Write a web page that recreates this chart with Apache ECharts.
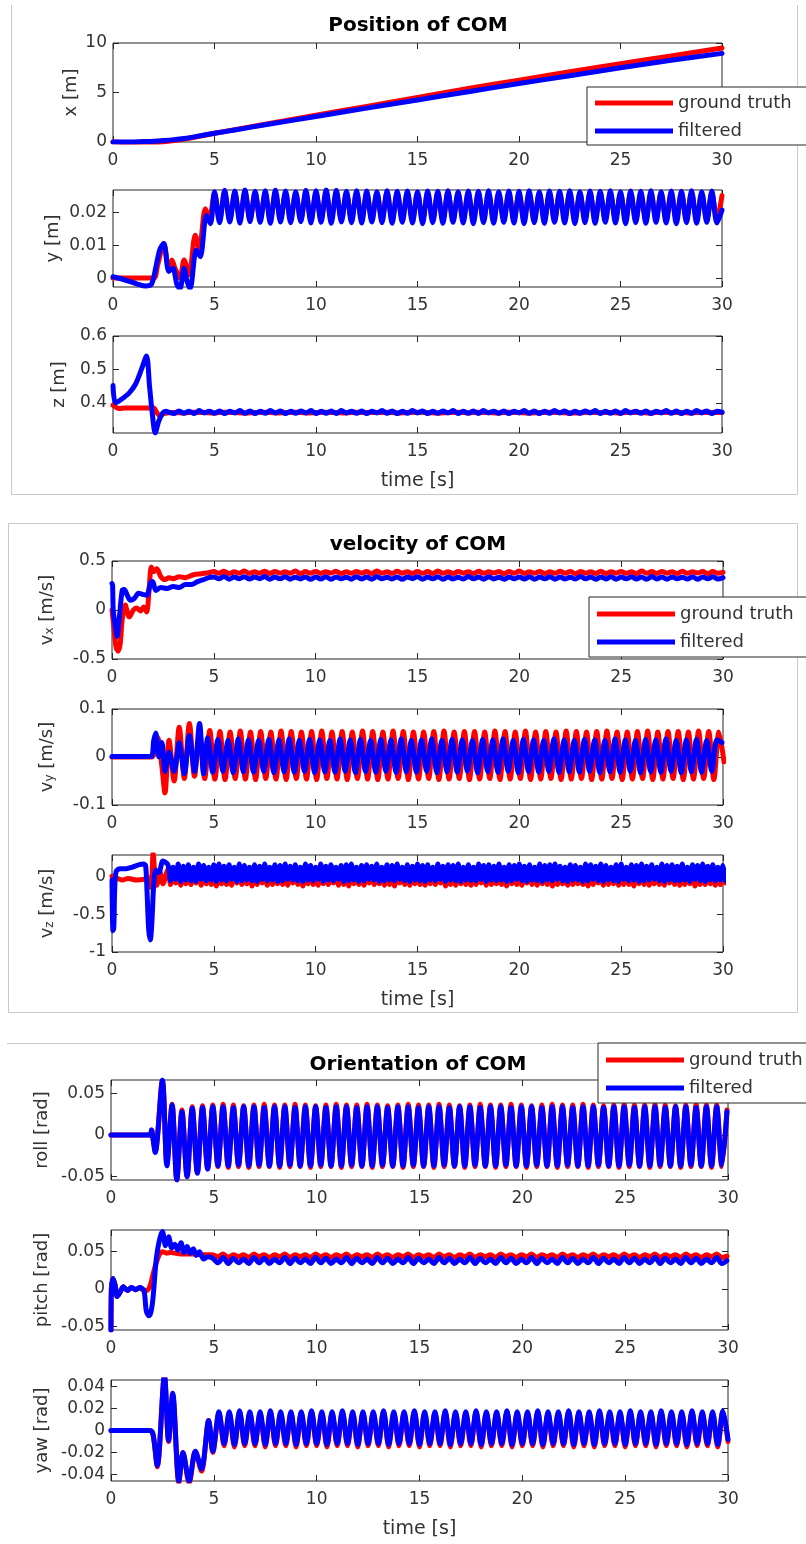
<!DOCTYPE html>
<html><head><meta charset="utf-8">
<script src="https://cdn.jsdelivr.net/npm/echarts@6/dist/echarts.min.js"></script>
<style>html,body{margin:0;padding:0;background:#fff}#c{width:806px;height:1544px}</style>
</head><body><div id="c"></div>
<script>
// ---------------- DATA ----------------
const timeTicks = [0, 5, 10, 15, 20, 25, 30];
const ticksPosX = [0, 5, 10];
const ticksPosY = [0, 0.01, 0.02];
const ticksPosZ = [0.4, 0.5, 0.6];
const ticksVelX = [-0.5, 0, 0.5];
const ticksVelY = [-0.1, 0, 0.1];
const ticksVelZ = [-1, -0.5, 0];
const ticksRoll = [-0.05, 0, 0.05];
const ticksPitch = [-0.05, 0, 0.05];
const ticksYaw = [-0.04, -0.02, 0, 0.02, 0.04];
const seriesNames = ['ground truth', 'filtered'];
const HALF = 0.25;
const QUARTER = 0.125;

// position x
const tPosX = [0, 0.5, 1, 1.5, 2, 2.5, 3, 3.5, 4, 5, 6, 7.5, 10, 12.5, 15, 17.5, 20, 22.5, 25, 27.5, 30];
const xTruthV = [0, -0.04, -0.1, -0.12, -0.08, 0.02, 0.15, 0.3, 0.48, 0.88, 1.25, 1.8, 2.7, 3.6, 4.5, 5.4, 6.25, 7.1, 7.9, 8.7, 9.5];
const xFiltV = [0, 0.0, 0.01, 0.04, 0.08, 0.15, 0.24, 0.36, 0.52, 0.88, 1.22, 1.74, 2.58, 3.42, 4.25, 5.08, 5.9, 6.7, 7.5, 8.25, 8.95];

// position y
const yTruthT = [0, 1.0, 2.0, 2.2, 2.5, 2.75, 2.9, 3.05, 3.3, 3.5, 3.75, 4.05, 4.25, 4.55, 4.75];
const yTruthV = [0, 0, 0, 0.004, 0.0105, 0.003, 0.0055, 0.003, 0.0, 0.0055, 0.001, 0.013, 0.009, 0.021, 0.018];
const yTruthStart = 5.0;
const yTruthSteady = [
0.0256,0.0178,0.0257,0.0177,0.0255,0.0179,0.0258,0.0178,0.0256,0.0177,
0.0255,0.0179,0.0257,0.0178,0.0256,0.0180,0.0255,0.0177,0.0257,0.0178,
0.0256,0.0179,0.0258,0.0177,0.0255,0.0178,0.0256,0.0180,0.0257,0.0178,
0.0255,0.0177,0.0256,0.0179,0.0257,0.0178,0.0255,0.0180,0.0256,0.0177,
0.0257,0.0178,0.0255,0.0179,0.0256,0.0177,0.0258,0.0178,0.0255,0.0179,
0.0256,0.0178,0.0257,0.0177,0.0255,0.0180,0.0256,0.0178,0.0257,0.0179,
0.0255,0.0177,0.0256,0.0178,0.0258,0.0179,0.0255,0.0177,0.0256,0.0180,
0.0257,0.0178,0.0255,0.0179,0.0256,0.0177,0.0257,0.0178,0.0255,0.0180,
0.0256,0.0179,0.0258,0.0177,0.0255,0.0178,0.0256,0.0179,0.0257,0.0177,
0.0255,0.0178,0.0256,0.0180,0.0257,0.0178,0.0255,0.0179,0.0256,0.0177,
0.0250];
const yFiltT = [0, 0.4, 0.8, 1.2, 1.6, 1.9, 2.1, 2.3, 2.5, 2.75, 2.95, 3.15, 3.3, 3.5, 3.65, 3.8, 4.1, 4.3, 4.6, 4.8];
const yFiltV = [0.0004, -0.0002, -0.001, -0.0018, -0.0024, -0.0018, 0.003, 0.0085, 0.0105, 0.002, 0.003, -0.002, -0.0032, 0.003, -0.001, -0.0032, 0.0085, 0.0065, 0.019, 0.0165];
const yFiltStart = 5.0;
const yFiltSteady = [
0.0262,0.0168,0.0266,0.0170,0.0264,0.0167,0.0268,0.0171,0.0263,0.0169,
0.0265,0.0166,0.0267,0.0170,0.0264,0.0168,0.0262,0.0171,0.0266,0.0167,
0.0265,0.0169,0.0268,0.0166,0.0266,0.0170,0.0263,0.0168,0.0265,0.0167,
0.0264,0.0170,0.0262,0.0168,0.0265,0.0166,0.0263,0.0169,0.0264,0.0167,
0.0262,0.0165,0.0264,0.0168,0.0263,0.0166,0.0265,0.0169,0.0262,0.0167,
0.0264,0.0165,0.0263,0.0168,0.0265,0.0166,0.0262,0.0169,0.0264,0.0167,
0.0263,0.0165,0.0265,0.0168,0.0262,0.0166,0.0264,0.0169,0.0263,0.0167,
0.0265,0.0165,0.0262,0.0168,0.0264,0.0166,0.0263,0.0169,0.0265,0.0167,
0.0262,0.0165,0.0264,0.0168,0.0263,0.0166,0.0265,0.0169,0.0262,0.0167,
0.0264,0.0165,0.0263,0.0168,0.0265,0.0166,0.0262,0.0169,0.0264,0.0167,
0.0206];

// position z
const zTruthT = [0, 0.15, 0.3, 0.6, 1.0, 1.5, 2.0, 2.15, 2.3, 2.5];
const zTruthV = [0.393, 0.387, 0.383, 0.385, 0.385, 0.385, 0.385, 0.372, 0.362, 0.368];
const zTruthStart = 3.0;
const zTruthSteady = [
0.371,0.370,0.372,0.371,0.370,0.372,0.371,0.370,0.371,0.372,
0.370,0.371,0.372,0.370,0.371,0.372,0.371,0.370,0.372,0.371,
0.371,0.372,0.370,0.371,0.372,0.371,0.370,0.371,0.372,0.370,
0.372,0.371,0.370,0.372,0.371,0.370,0.371,0.372,0.371,0.370,
0.370,0.372,0.371,0.371,0.370,0.372,0.371,0.370,0.372,0.371,
0.371,0.370,0.372,0.371,0.371];
const zFiltT = [0, 0.12, 0.4, 0.8, 1.1, 1.4, 1.65, 1.8, 1.95, 2.08, 2.25, 2.45, 2.6];
const zFiltV = [0.452, 0.4, 0.41, 0.43, 0.455, 0.5, 0.54, 0.45, 0.36, 0.31, 0.345, 0.37, 0.375];
const zFiltStart = 2.75;
const zFiltSteady = [
0.372,0.368,0.376,0.369,0.375,0.368,0.377,0.370,0.375,0.369,
0.376,0.368,0.375,0.370,0.377,0.369,0.376,0.368,0.375,0.369,
0.377,0.370,0.376,0.368,0.375,0.369,0.376,0.370,0.377,0.368,
0.375,0.369,0.376,0.368,0.377,0.370,0.375,0.369,0.376,0.368,
0.375,0.370,0.377,0.369,0.376,0.368,0.375,0.369,0.377,0.370,
0.376,0.368,0.375,0.369,0.376,0.370,0.377,0.368,0.375,0.369,
0.376,0.368,0.377,0.370,0.375,0.369,0.376,0.368,0.375,0.370,
0.377,0.369,0.376,0.368,0.375,0.369,0.377,0.370,0.376,0.368,
0.375,0.369,0.376,0.370,0.377,0.368,0.375,0.369,0.376,0.368,
0.377,0.370,0.375,0.369,0.376,0.368,0.375,0.370,0.377,0.369,
0.376,0.368,0.375,0.369,0.377,0.370,0.376,0.368,0.375,0.372];

// velocity x
const vxTruthT = [0, 0.08, 0.2, 0.3, 0.4, 0.5, 0.65, 0.85, 1.05, 1.2, 1.4, 1.55, 1.7, 1.82, 1.93, 2.05, 2.2, 2.4, 2.6, 2.8, 3.0, 3.3, 3.6, 4.0, 4.4, 4.75];
const vxTruthV = [0.0, -0.15, -0.38, -0.42, -0.35, -0.1, 0.05, -0.07, 0.0, 0.02, -0.01, 0.03, -0.02, 0.2, 0.44, 0.39, 0.42, 0.34, 0.31, 0.33, 0.32, 0.34, 0.33, 0.36, 0.37, 0.38];
const vxTruthStart = 5.0;
const vxTruthSteady = [
0.392,0.374,0.396,0.372,0.390,0.376,0.398,0.373,0.391,0.375,
0.395,0.372,0.393,0.376,0.390,0.374,0.397,0.371,0.392,0.375,
0.394,0.373,0.391,0.377,0.396,0.372,0.390,0.374,0.393,0.376,
0.392,0.371,0.397,0.375,0.390,0.373,0.395,0.376,0.391,0.372,
0.394,0.374,0.392,0.371,0.398,0.375,0.390,0.373,0.393,0.376,
0.391,0.372,0.396,0.374,0.390,0.377,0.394,0.371,0.392,0.375,
0.397,0.373,0.390,0.376,0.393,0.372,0.391,0.374,0.395,0.376,
0.392,0.371,0.394,0.375,0.390,0.373,0.396,0.372,0.391,0.376,
0.393,0.374,0.390,0.371,0.397,0.375,0.392,0.373,0.394,0.376,
0.391,0.372,0.395,0.374,0.390,0.377,0.393,0.371,0.392,0.375,
0.385];
const vxFiltT = [0, 0.03, 0.06, 0.15, 0.25, 0.35, 0.5, 0.6, 0.75, 0.9, 1.1, 1.3, 1.5, 1.7, 1.9, 2.0, 2.15, 2.4, 2.7, 3.0, 3.3, 3.6, 3.9, 4.2, 4.5, 4.75];
const vxFiltV = [0.27, 0.25, 0.0, -0.15, -0.27, -0.1, 0.2, 0.21, 0.15, 0.1, 0.12, 0.17, 0.16, 0.15, 0.28, 0.29, 0.2, 0.23, 0.22, 0.24, 0.23, 0.26, 0.26, 0.29, 0.31, 0.33];
const vxFiltStart = 5.0;
const vxFiltSteady = [
0.338,0.318,0.342,0.315,0.336,0.320,0.340,0.316,0.337,0.319,
0.341,0.314,0.336,0.318,0.339,0.315,0.335,0.317,0.338,0.313,
0.336,0.316,0.340,0.314,0.337,0.318,0.335,0.315,0.339,0.317,
0.336,0.314,0.341,0.318,0.335,0.316,0.338,0.314,0.337,0.319,
0.340,0.315,0.336,0.318,0.339,0.314,0.337,0.317,0.335,0.316,
0.341,0.318,0.336,0.315,0.339,0.317,0.335,0.314,0.338,0.318,
0.337,0.316,0.340,0.314,0.336,0.318,0.339,0.315,0.337,0.317,
0.335,0.316,0.341,0.318,0.336,0.314,0.338,0.317,0.340,0.315,
0.336,0.318,0.339,0.316,0.337,0.314,0.341,0.317,0.336,0.315,
0.338,0.318,0.335,0.316,0.340,0.314,0.337,0.318,0.339,0.316,
0.330];

// velocity y
const vyTruthT = [0, 1.95, 2.1, 2.25, 2.45, 2.6, 2.8, 3.05, 3.3, 3.55, 3.8, 4.05, 4.3, 4.55, 4.8];
const vyTruthV = [0, 0, 0.02, 0.04, -0.02, -0.075, 0.035, -0.05, 0.062, -0.045, 0.07, -0.04, 0.05, -0.045, 0.055];
const vyTruthStart = 5.05;
const vyTruthSteady = [
-0.046,0.053,-0.047,0.052,-0.045,0.054,-0.046,0.052,-0.047,0.053,
-0.045,0.052,-0.046,0.054,-0.047,0.053,-0.045,0.052,-0.046,0.053,
-0.047,0.054,-0.045,0.052,-0.046,0.053,-0.047,0.052,-0.045,0.054,
-0.046,0.053,-0.047,0.052,-0.046,0.054,-0.045,0.053,-0.047,0.052,
-0.046,0.052,-0.045,0.053,-0.047,0.054,-0.046,0.052,-0.045,0.053,
-0.047,0.053,-0.046,0.052,-0.045,0.054,-0.047,0.053,-0.046,0.052,
-0.045,0.054,-0.047,0.052,-0.046,0.053,-0.045,0.052,-0.047,0.054,
-0.046,0.053,-0.045,0.052,-0.047,0.053,-0.046,0.054,-0.045,0.052,
-0.047,0.052,-0.046,0.053,-0.045,0.054,-0.047,0.052,-0.046,0.053,
-0.045,0.053,-0.047,0.052,-0.046,0.054,-0.045,0.053,-0.047,0.052,
-0.010];
const vyFiltT = [0, 1.9, 2.05, 2.15, 2.3, 2.45, 2.6, 2.8, 3.05, 3.3, 3.55, 3.8, 4.05, 4.3, 4.5, 4.7];
const vyFiltV = [0.001, 0.001, 0.035, 0.05, 0.0, 0.03, -0.03, 0.01, -0.03, 0.03, -0.035, 0.045, -0.03, 0.07, -0.035, 0.04];
const vyFiltStart = 4.95;
const vyFiltSteady = [
-0.032,0.037,-0.030,0.035,-0.033,0.038,-0.031,0.036,-0.032,0.035,
-0.030,0.037,-0.033,0.036,-0.031,0.038,-0.032,0.035,-0.030,0.037,
-0.033,0.036,-0.031,0.035,-0.032,0.038,-0.030,0.036,-0.033,0.037,
-0.031,0.035,-0.032,0.037,-0.030,0.036,-0.033,0.038,-0.031,0.035,
-0.032,0.036,-0.030,0.038,-0.033,0.035,-0.031,0.037,-0.032,0.036,
-0.030,0.035,-0.033,0.037,-0.031,0.036,-0.032,0.038,-0.030,0.035,
-0.033,0.037,-0.031,0.036,-0.032,0.035,-0.030,0.038,-0.033,0.036,
-0.031,0.035,-0.032,0.037,-0.030,0.036,-0.033,0.035,-0.031,0.038,
-0.032,0.036,-0.030,0.035,-0.033,0.037,-0.031,0.036,-0.032,0.038,
-0.030,0.035,-0.033,0.036,-0.031,0.037,-0.032,0.035,-0.030,0.036,
0.030];

// velocity z (denser noise, sampled every 0.125 s)
const vzTruthT = [0, 0.08, 0.25, 0.5, 0.8, 1.2, 1.6, 1.8, 1.92, 2.02, 2.1, 2.2, 2.35, 2.5];
const vzTruthV = [0.0, -0.05, -0.03, -0.05, -0.03, -0.05, -0.04, -0.02, -0.15, 0.3, 0.05, -0.12, 0.06, -0.1];
const vzTruthStart = 2.75;
const vzTruthSteady = [
0.09,-0.11,0.06,-0.09,0.10,-0.12,0.07,-0.10,0.08,-0.11,
0.10,-0.09,0.07,-0.12,0.09,-0.10,0.06,-0.11,0.10,-0.13,
0.08,-0.10,0.09,-0.11,0.07,-0.12,0.10,-0.09,0.08,-0.11,
0.06,-0.10,0.09,-0.13,0.10,-0.11,0.07,-0.09,0.08,-0.12,
0.09,-0.11,0.10,-0.10,0.06,-0.11,0.08,-0.12,0.09,-0.09,
0.07,-0.11,0.10,-0.13,0.08,-0.10,0.09,-0.11,0.06,-0.12,
0.10,-0.10,0.07,-0.11,0.09,-0.09,0.08,-0.12,0.10,-0.11,
0.06,-0.13,0.09,-0.10,0.07,-0.11,0.10,-0.12,0.08,-0.09,
0.09,-0.11,0.06,-0.10,0.10,-0.12,0.07,-0.11,0.08,-0.13,
0.10,-0.09,0.09,-0.11,0.06,-0.12,0.08,-0.10,0.07,-0.11,
0.09,-0.12,0.10,-0.10,0.08,-0.11,0.06,-0.09,0.09,-0.13,
0.07,-0.11,0.10,-0.12,0.08,-0.10,0.09,-0.11,0.06,-0.12,
0.10,-0.11,0.07,-0.09,0.09,-0.12,0.08,-0.11,0.10,-0.10,
0.06,-0.11,0.09,-0.13,0.07,-0.10,0.10,-0.11,0.08,-0.12,
0.09,-0.09,0.06,-0.11,0.10,-0.12,0.07,-0.10,0.08,-0.11,
0.10,-0.13,0.09,-0.11,0.06,-0.10,0.08,-0.12,0.07,-0.11,
0.09,-0.10,0.10,-0.11,0.08,-0.13,0.06,-0.11,0.09,-0.09,
0.07,-0.12,0.10,-0.11,0.08,-0.10,0.09,-0.12,0.06,-0.11,
0.10,-0.11,0.07,-0.13,0.09,-0.10,0.08,-0.11,0.10,-0.12,
0.06,-0.10,0.09,-0.11,0.07,-0.12,0.10,-0.09,0.08,-0.11,
0.09,-0.12,0.06,-0.11,0.10,-0.10,0.07,-0.13,0.08,-0.11,
0.10,-0.11,0.09,-0.10,0.06,-0.12,0.08,-0.11,0.07,-0.09];
const vzFiltT = [0, 0.02, 0.05, 0.09, 0.13, 0.2, 0.4, 0.7, 1.0, 1.3, 1.55, 1.65, 1.72, 1.8, 1.88, 1.96, 2.05, 2.15, 2.3, 2.5];
const vzFiltV = [-0.05, -0.5, -0.72, -0.68, -0.2, 0.06, 0.1, 0.1, 0.12, 0.15, 0.16, 0.14, -0.2, -0.7, -0.84, -0.6, -0.1, 0.08, 0.05, 0.2];
const vzFiltStart = 2.75;
const vzFiltSteady = [
0.15,-0.06,0.12,-0.04,0.16,-0.07,0.13,-0.05,0.15,-0.06,
0.12,-0.07,0.16,-0.04,0.14,-0.06,0.12,-0.05,0.15,-0.07,
0.16,-0.05,0.13,-0.06,0.15,-0.04,0.12,-0.07,0.16,-0.06,
0.14,-0.05,0.12,-0.06,0.15,-0.07,0.13,-0.04,0.16,-0.06,
0.12,-0.05,0.15,-0.07,0.14,-0.06,0.16,-0.04,0.13,-0.05,
0.15,-0.06,0.12,-0.07,0.16,-0.05,0.14,-0.06,0.12,-0.04,
0.16,-0.07,0.13,-0.05,0.15,-0.06,0.12,-0.04,0.14,-0.07,
0.15,-0.06,0.16,-0.05,0.12,-0.07,0.14,-0.06,0.15,-0.04,
0.13,-0.05,0.16,-0.07,0.12,-0.06,0.15,-0.05,0.14,-0.06,
0.16,-0.04,0.12,-0.06,0.15,-0.07,0.13,-0.05,0.16,-0.06,
0.14,-0.07,0.15,-0.05,0.12,-0.06,0.16,-0.04,0.13,-0.07,
0.15,-0.05,0.14,-0.06,0.16,-0.07,0.12,-0.05,0.15,-0.06,
0.12,-0.06,0.16,-0.04,0.14,-0.07,0.15,-0.05,0.13,-0.06,
0.16,-0.05,0.12,-0.07,0.15,-0.06,0.14,-0.04,0.16,-0.06,
0.13,-0.07,0.15,-0.05,0.12,-0.06,0.16,-0.07,0.14,-0.05,
0.15,-0.06,0.16,-0.04,0.13,-0.06,0.12,-0.07,0.15,-0.05,
0.14,-0.05,0.12,-0.07,0.16,-0.06,0.15,-0.04,0.13,-0.06,
0.16,-0.07,0.14,-0.05,0.12,-0.06,0.15,-0.07,0.16,-0.04,
0.12,-0.06,0.15,-0.05,0.14,-0.07,0.16,-0.06,0.13,-0.05,
0.15,-0.04,0.12,-0.06,0.16,-0.07,0.14,-0.05,0.15,-0.06,
0.13,-0.06,0.16,-0.05,0.12,-0.07,0.15,-0.04,0.14,-0.06,
0.16,-0.07,0.13,-0.05,0.15,-0.06,0.12,-0.05,0.14,-0.06];

// roll
const rollTruthT = [0, 1.9, 1.97, 2.05, 2.15, 2.5, 2.72, 2.97, 3.2, 3.45, 3.7, 3.95, 4.2, 4.45, 4.7];
const rollTruthV = [0, 0, 0.006, -0.005, -0.02, 0.065, -0.035, 0.037, -0.054, 0.03, -0.05, 0.034, -0.045, 0.035, -0.04];
const rollTruthStart = 4.95;
const rollTruthSteady = [
0.036,-0.038,0.037,-0.039,0.036,-0.038,0.035,-0.039,0.036,-0.038,
0.037,-0.038,0.036,-0.039,0.036,-0.038,0.037,-0.038,0.036,-0.039,
0.035,-0.038,0.036,-0.038,0.037,-0.039,0.036,-0.038,0.036,-0.038,
0.037,-0.039,0.036,-0.038,0.035,-0.038,0.036,-0.039,0.037,-0.038,
0.036,-0.038,0.036,-0.039,0.037,-0.038,0.036,-0.038,0.035,-0.039,
0.036,-0.038,0.037,-0.038,0.036,-0.039,0.036,-0.038,0.037,-0.038,
0.036,-0.039,0.035,-0.038,0.036,-0.038,0.037,-0.039,0.036,-0.038,
0.036,-0.038,0.037,-0.039,0.036,-0.038,0.035,-0.038,0.036,-0.039,
0.037,-0.038,0.036,-0.038,0.036,-0.039,0.037,-0.038,0.036,-0.038,
0.035,-0.039,0.036,-0.038,0.037,-0.038,0.036,-0.039,0.036,-0.038,
0.030];
const rollFiltT = [0, 1.9, 1.97, 2.05, 2.15, 2.5, 2.72, 2.97, 3.2, 3.45, 3.7, 3.95, 4.2, 4.45, 4.7];
const rollFiltV = [0, 0, 0.006, -0.006, -0.021, 0.066, -0.037, 0.036, -0.054, 0.028, -0.05, 0.032, -0.046, 0.033, -0.041];
const rollFiltStart = 4.95;
const rollFiltSteady = [
0.034,-0.037,0.034,-0.037,0.033,-0.036,0.034,-0.037,0.034,-0.036,
0.033,-0.037,0.034,-0.037,0.034,-0.036,0.033,-0.037,0.034,-0.037,
0.034,-0.036,0.033,-0.037,0.034,-0.037,0.034,-0.036,0.033,-0.037,
0.034,-0.037,0.034,-0.036,0.033,-0.037,0.034,-0.037,0.034,-0.036,
0.033,-0.037,0.034,-0.037,0.034,-0.036,0.033,-0.037,0.034,-0.037,
0.034,-0.036,0.033,-0.037,0.034,-0.037,0.034,-0.036,0.033,-0.037,
0.034,-0.037,0.034,-0.036,0.033,-0.037,0.034,-0.037,0.034,-0.036,
0.033,-0.037,0.034,-0.037,0.034,-0.036,0.033,-0.037,0.034,-0.037,
0.034,-0.036,0.033,-0.037,0.034,-0.037,0.034,-0.036,0.033,-0.037,
0.034,-0.037,0.034,-0.036,0.033,-0.037,0.034,-0.037,0.034,-0.036,
0.028];

// pitch
const pitchTruthT = [0, 0.02, 0.1, 0.2, 0.3, 0.45, 0.6, 0.8, 1.0, 1.2, 1.4, 1.6, 1.75, 1.9, 2.05, 2.2, 2.35, 2.5, 2.7, 2.9, 3.1, 3.4, 3.7, 4.0, 4.3, 4.7];
const pitchTruthV = [-0.055, 0.0, 0.014, 0.005, -0.01, -0.004, 0.003, -0.002, 0.002, -0.001, 0.002, -0.002, -0.002, 0.004, 0.02, 0.035, 0.046, 0.05, 0.048, 0.049, 0.048, 0.047, 0.047, 0.047, 0.046, 0.046];
const pitchTruthStart = 4.95;
const pitchTruthSteady = [
0.046,0.043,0.047,0.042,0.046,0.043,0.046,0.042,0.047,0.043,
0.046,0.042,0.046,0.043,0.047,0.042,0.046,0.043,0.046,0.042,
0.047,0.043,0.046,0.042,0.046,0.043,0.047,0.042,0.046,0.043,
0.046,0.042,0.047,0.043,0.046,0.042,0.046,0.043,0.047,0.042,
0.046,0.043,0.046,0.042,0.047,0.043,0.046,0.042,0.046,0.043,
0.047,0.042,0.046,0.043,0.046,0.042,0.047,0.043,0.046,0.042,
0.046,0.043,0.047,0.042,0.046,0.043,0.046,0.042,0.047,0.043,
0.046,0.042,0.046,0.043,0.047,0.042,0.046,0.043,0.046,0.042,
0.047,0.043,0.046,0.042,0.046,0.043,0.047,0.042,0.046,0.043,
0.046,0.042,0.047,0.043,0.046,0.042,0.046,0.043,0.047,0.042,
0.044];
const pitchFiltT = [0, 0.02, 0.1, 0.2, 0.3, 0.45, 0.6, 0.8, 1.0, 1.2, 1.4, 1.6, 1.72, 1.85, 1.95, 2.05, 2.2, 2.35, 2.5, 2.65, 2.8, 2.95, 3.1, 3.25, 3.4, 3.55, 3.7, 3.85, 4.0, 4.15, 4.3, 4.5, 4.7];
const pitchFiltV = [-0.055, 0.0, 0.014, 0.005, -0.01, -0.004, 0.003, -0.002, 0.002, -0.001, 0.002, -0.002, -0.03, -0.036, -0.03, -0.01, 0.04, 0.065, 0.077, 0.058, 0.07, 0.055, 0.06, 0.052, 0.062, 0.049, 0.057, 0.048, 0.054, 0.045, 0.05, 0.04, 0.043];
const pitchFiltStart = 4.95;
const pitchFiltSteady = [
0.041,0.035,0.042,0.034,0.041,0.035,0.040,0.034,0.042,0.035,
0.041,0.034,0.040,0.035,0.042,0.034,0.041,0.035,0.040,0.034,
0.042,0.035,0.041,0.034,0.040,0.035,0.042,0.034,0.041,0.035,
0.040,0.034,0.042,0.035,0.041,0.034,0.040,0.035,0.042,0.034,
0.041,0.035,0.040,0.034,0.042,0.035,0.041,0.034,0.040,0.035,
0.042,0.034,0.041,0.035,0.040,0.034,0.042,0.035,0.041,0.034,
0.040,0.035,0.042,0.034,0.041,0.035,0.040,0.034,0.042,0.035,
0.041,0.034,0.040,0.035,0.042,0.034,0.041,0.035,0.040,0.034,
0.042,0.035,0.041,0.034,0.040,0.035,0.042,0.034,0.041,0.035,
0.040,0.034,0.042,0.035,0.041,0.034,0.040,0.035,0.042,0.034,
0.038];

// yaw
const yawTruthT = [0, 1.9, 2.05, 2.25, 2.6, 2.8, 3.0, 3.3, 3.5, 3.8, 4.1, 4.4, 4.75, 4.95];
const yawTruthV = [0, 0, -0.004, -0.033, 0.05, -0.01, 0.033, -0.048, -0.02, -0.048, -0.019, -0.037, 0.009, -0.02];
const yawTruthStart = 5.25;
const yawTruthSteady = [
0.016,-0.014,0.016,-0.015,0.017,-0.014,0.016,-0.014,0.016,-0.015,
0.017,-0.014,0.016,-0.014,0.016,-0.015,0.016,-0.014,0.017,-0.014,
0.016,-0.015,0.016,-0.014,0.017,-0.014,0.016,-0.015,0.016,-0.014,
0.016,-0.014,0.017,-0.015,0.016,-0.014,0.016,-0.014,0.017,-0.015,
0.016,-0.014,0.016,-0.014,0.017,-0.015,0.016,-0.014,0.016,-0.014,
0.017,-0.015,0.016,-0.014,0.016,-0.014,0.017,-0.015,0.016,-0.014,
0.016,-0.014,0.017,-0.015,0.016,-0.014,0.016,-0.014,0.017,-0.015,
0.016,-0.014,0.016,-0.015,0.017,-0.014,0.016,-0.014,0.016,-0.015,
0.017,-0.014,0.016,-0.014,0.016,-0.015,0.017,-0.014,0.016,-0.014,
0.016,-0.015,0.017,-0.014,0.016,-0.014,0.016,-0.015,0.017,-0.010];
const yawFiltT = [0, 1.9, 2.05, 2.25, 2.6, 2.8, 3.0, 3.3, 3.5, 3.8, 4.1, 4.4, 4.75, 4.95];
const yawFiltV = [0, 0, -0.004, -0.032, 0.05, -0.009, 0.034, -0.046, -0.02, -0.046, -0.019, -0.035, 0.009, -0.019];
const yawFiltStart = 5.25;
const yawFiltSteady = [
0.017,-0.012,0.017,-0.013,0.018,-0.012,0.017,-0.012,0.017,-0.013,
0.018,-0.012,0.017,-0.012,0.017,-0.013,0.017,-0.012,0.018,-0.012,
0.017,-0.013,0.017,-0.012,0.018,-0.012,0.017,-0.013,0.017,-0.012,
0.017,-0.012,0.018,-0.013,0.017,-0.012,0.017,-0.012,0.018,-0.013,
0.017,-0.012,0.017,-0.012,0.018,-0.013,0.017,-0.012,0.017,-0.012,
0.018,-0.013,0.017,-0.012,0.017,-0.012,0.018,-0.013,0.017,-0.012,
0.017,-0.012,0.018,-0.013,0.017,-0.012,0.017,-0.012,0.018,-0.013,
0.017,-0.012,0.017,-0.013,0.018,-0.012,0.017,-0.012,0.017,-0.013,
0.018,-0.012,0.017,-0.012,0.017,-0.013,0.018,-0.012,0.017,-0.012,
0.017,-0.013,0.018,-0.012,0.017,-0.012,0.017,-0.013,0.018,-0.008];

// ---------------- BUILD ----------------
function ptsStep(tArr, vArr, t0, step, steady) {
  const out = tArr.map((t, i) => [t, vArr[i]]);
  if (steady) steady.forEach((v, i) => out.push([+(t0 + i * step).toFixed(3), v]));
  return out;
}
function pts(tArr, vArr, t0, steady) { return ptsStep(tArr, vArr, t0, HALF, steady); }

const FONT = 'DejaVu Sans';
const TXT = '#333333';
const AX = '#262626';
const RED = '#ff0000', BLUE = '#0000ff';

const plots = [
  {g:{left:113, top:43, width:609, height:99}, min:0, max:10, ticks:ticksPosX, name:'x [m]', gap:33,
   r: pts(tPosX, xTruthV), b: pts(tPosX, xFiltV)},
  {g:{left:113, top:190, width:609, height:97}, min:-0.0027, max:0.0267, ticks:ticksPosY, name:'y [m]', gap:51,
   r: pts(yTruthT, yTruthV, yTruthStart, yTruthSteady), b: pts(yFiltT, yFiltV, yFiltStart, yFiltSteady)},
  {g:{left:113, top:336, width:609, height:97}, min:0.31, max:0.6, ticks:ticksPosZ, name:'z [m]', gap:45, time:true,
   r: ptsStep(zTruthT, zTruthV, zTruthStart, 0.5, zTruthSteady), b: pts(zFiltT, zFiltV, zFiltStart, zFiltSteady)},
  {g:{left:112, top:561, width:611, height:98}, min:-0.5, max:0.5, ticks:ticksVelX, name:'v{sub|x} [m/s]', gap:56,
   r: pts(vxTruthT, vxTruthV, vxTruthStart, vxTruthSteady), b: pts(vxFiltT, vxFiltV, vxFiltStart, vxFiltSteady)},
  {g:{left:112, top:709, width:611, height:96}, min:-0.1, max:0.1, ticks:ticksVelY, name:'v{sub|y} [m/s]', gap:56,
   r: pts(vyTruthT, vyTruthV, vyTruthStart, vyTruthSteady), b: pts(vyFiltT, vyFiltV, vyFiltStart, vyFiltSteady)},
  {g:{left:112, top:855, width:611, height:97}, min:-1, max:0.28, ticks:ticksVelZ, name:'v{sub|z} [m/s]', gap:56, time:true,
   r: ptsStep(vzTruthT, vzTruthV, vzTruthStart, QUARTER, vzTruthSteady), b: ptsStep(vzFiltT, vzFiltV, vzFiltStart, QUARTER, vzFiltSteady)},
  {g:{left:111, top:1080, width:617, height:100}, min:-0.054, max:0.066, ticks:ticksRoll, name:'roll [rad]', gap:60,
   r: pts(rollTruthT, rollTruthV, rollTruthStart, rollTruthSteady), b: pts(rollFiltT, rollFiltV, rollFiltStart, rollFiltSteady)},
  {g:{left:111, top:1230, width:617, height:100}, min:-0.055, max:0.079, ticks:ticksPitch, name:'pitch [rad]', gap:60,
   r: pts(pitchTruthT, pitchTruthV, pitchTruthStart, pitchTruthSteady), b: pts(pitchFiltT, pitchFiltV, pitchFiltStart, pitchFiltSteady)},
  {g:{left:111, top:1380, width:617, height:101}, min:-0.046, max:0.046, ticks:ticksYaw, name:'yaw [rad]', gap:60, time:true,
   r: pts(yawTruthT, yawTruthV, yawTruthStart, yawTruthSteady), b: pts(yawFiltT, yawFiltV, yawFiltStart, yawFiltSteady)}
];

const grid = [], xAxis = [], yAxis = [], series = [];
const tickStyle = {inside:true, length:6, lineStyle:{color:AX, width:1}};
const noLine = {show:false, onZero:false};
plots.forEach((p, i) => {
  grid.push(Object.assign({show:true, borderColor:AX, borderWidth:1, backgroundColor:'#fff', outerBoundsMode:'none'}, p.g));
  xAxis.push({gridIndex:i, type:'value', min:0, max:30, position:'bottom',
    axisLine:noLine, splitLine:{show:false},
    axisTick:Object.assign({customValues:timeTicks}, tickStyle),
    axisLabel:{customValues:timeTicks, margin:10, fontSize:17, fontFamily:FONT, color:TXT},
    name: p.time ? 'time [s]' : '', nameLocation:'middle', nameGap:39, nameMoveOverlap:false,
    nameTextStyle:{fontSize:19, fontFamily:FONT, color:TXT}});
  xAxis.push({gridIndex:i, type:'value', min:0, max:30, position:'top',
    axisLine:noLine, splitLine:{show:false}, axisLabel:{show:false},
    axisTick:Object.assign({customValues:timeTicks}, tickStyle)});
  yAxis.push({gridIndex:i, type:'value', min:p.min, max:p.max, position:'left',
    axisLine:noLine, splitLine:{show:false},
    axisTick:Object.assign({customValues:p.ticks}, tickStyle),
    axisLabel:{customValues:p.ticks, margin:6, fontSize:17, fontFamily:FONT, color:TXT},
    name:p.name, nameLocation:'middle', nameRotate:90, nameGap:p.gap, nameMoveOverlap:false,
    nameTextStyle:{fontSize:18, fontFamily:FONT, color:TXT,
      rich:{sub:{fontSize:12, fontFamily:FONT, color:TXT, verticalAlign:'bottom', lineHeight:6}}}});
  yAxis.push({gridIndex:i, type:'value', min:p.min, max:p.max, position:'right',
    axisLine:noLine, splitLine:{show:false}, axisLabel:{show:false},
    axisTick:Object.assign({customValues:p.ticks}, tickStyle)});
  [[seriesNames[0], RED, p.r], [seriesNames[1], BLUE, p.b]].forEach(([nm, col, data]) => {
    series.push({type:'line', name:nm, data:data, xAxisIndex:2*i, yAxisIndex:2*i,
      showSymbol:false, smooth:0.3, clip:true, color:col,
      lineStyle:{width:5, color:col, join:'round', cap:'round'}, emphasis:{disabled:true}});
  });
});

function legendAt(left, top, padTop, padBot) {
  return {data:seriesNames, orient:'vertical', left:left, top:top, itemWidth:78, itemHeight:5, itemGap:8,
    icon:'rect', padding:[padTop, 40, padBot, 8], borderColor:AX, borderWidth:1, backgroundColor:'#fff',
    selectedMode:false, z:10,
    textStyle:{fontSize:18, fontFamily:FONT, color:TXT, lineHeight:20}};
}

const titleStyle = {fontSize:20, fontWeight:'bold', fontFamily:FONT, color:'#000'};
const option = {
  animation:false,
  backgroundColor:'#fff',
  title:[
    {text:'Position of COM', left:418, top:16, textAlign:'center', padding:0, textStyle:titleStyle},
    {text:'velocity of COM', left:418, top:535, textAlign:'center', padding:0, textStyle:titleStyle},
    {text:'Orientation of COM', left:418, top:1055, textAlign:'center', padding:0, textStyle:titleStyle}
  ],
  legend:[legendAt(587, 87, 6, 4), legendAt(589, 597, 7, 5), legendAt(598, 1043, 7, 5)],
  grid:grid, xAxis:xAxis, yAxis:yAxis, series:series,
  graphic:[
    {type:'polyline', z:-1, shape:{points:[[11.5,5],[11.5,494.5],[797.5,494.5],[797.5,5]]}, style:{stroke:'#c8c8c8', lineWidth:1, fill:null}},
    {type:'rect', z:-1, shape:{x:8.5, y:523.5, width:789, height:489}, style:{stroke:'#c8c8c8', lineWidth:1, fill:null}},
    {type:'line', z:-1, shape:{x1:7, y1:1043.5, x2:806, y2:1043.5}, style:{stroke:'#c8c8c8', lineWidth:1}}
  ]
};
const chart = echarts.init(document.getElementById('c'), null, {renderer:'canvas', width:806, height:1544});
chart.setOption(option);
</script>
</body></html>
